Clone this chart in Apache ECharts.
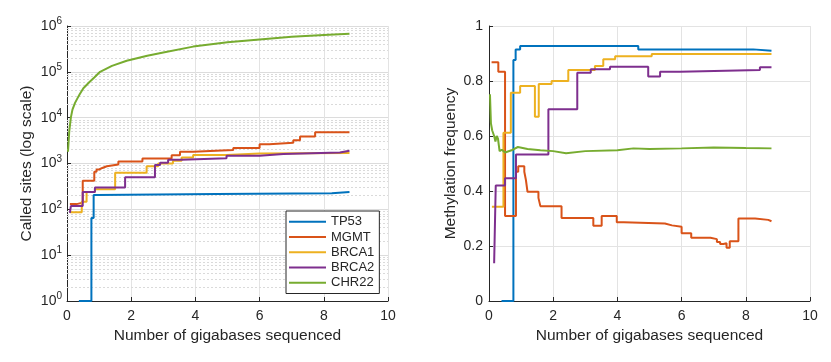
<!DOCTYPE html>
<html>
<head>
  <meta charset="utf-8">
  <script src="https://cdn.jsdelivr.net/npm/echarts@6/dist/echarts.min.js"></script>
</head>
<body style="margin:0;background:#fff">
<div id="main" style="width:831px;height:362px;"></div>
<script type="text/javascript">
var names = ['TP53', 'MGMT', 'BRCA1', 'BRCA2', 'CHR22'];
var colors = ['#0072BD', '#D95319', '#EDB120', '#7E2F8E', '#77AC30'];

// left: called sites (log scale), [gigabases, sites]
var sitesTP53 = [[0.37,1],[0.76,65],[0.83,205],[0.92,215],[4.67,225],[8.25,240],[8.8,240]];
var sitesMGMT = [[0.09,130],[0.3,140],[0.49,420],[0.85,660],[0.92,740],[1.0,800],[1.1,870],[1.24,950],[1.6,1100],[2.35,1280],[3.26,1520],[3.52,1800],[3.93,1960],[5.18,2170],[6.0,2630],[6.3,2850],[7.05,3200],[7.26,3900],[7.73,4800],[8.8,4800]];
var sitesBRCA1 = [[0.09,86],[0.46,147],[0.61,240],[0.87,275],[1.5,630],[2.48,870],[2.84,1000],[3.3,1150],[3.57,1360],[3.93,1540],[4.97,1650],[6.0,1700],[8.8,1700]];
var sitesBRCA2 = [[0.09,84],[0.12,118],[0.49,240],[0.87,300],[1.81,500],[2.74,930],[2.9,1040],[3.15,1200],[3.57,1300],[4.97,1480],[6.0,1620],[6.74,1730],[8.5,1900],[8.8,1900]];
var sitesCHR22 = [[0.03,1800],[0.07,5000],[0.12,10000],[0.17,15000],[0.25,21000],[0.32,26000],[0.4,33000],[0.51,44000],[0.7,60000],[0.85,75000],[1.03,100000],[1.4,135000],[1.86,174000],[2.5,225000],[3.0,265000],[3.93,355000],[5.0,440000],[6.0,510000],[7.0,580000],[8.0,640000],[8.8,680000]];

// right: methylation frequency, [gigabases, frequency]
var methTP53 = [[0.39,0],[0.76,0.876],[0.83,0.915],[0.97,0.927],[4.65,0.915],[8.23,0.91],[8.8,0.91]];
var methMGMT = [[0.08,0.868],[0.29,0.834],[0.5,0.309],[0.84,0.47],[0.91,0.49],[1.1,0.47],[1.15,0.44],[1.2,0.397],[1.54,0.375],[1.6,0.345],[2.26,0.302],[3.25,0.274],[3.51,0.309],[3.98,0.286],[4.2,0.282],[5.48,0.275],[5.7,0.27],[6.0,0.246],[6.3,0.23],[6.9,0.225],[7.1,0.215],[7.2,0.207],[7.3,0.21],[7.4,0.194],[7.5,0.217],[7.77,0.3],[8.29,0.295],[8.7,0.29],[8.8,0.29]];
var methBRCA1 = [[0.09,0.343],[0.45,0.612],[0.68,0.757],[0.97,0.782],[1.43,0.67],[1.55,0.789],[1.95,0.8],[2.47,0.84],[3.3,0.855],[3.56,0.879],[3.93,0.89],[5.07,0.898],[8.8,0.9]];
var methBRCA2 = [[0.16,0.137],[0.21,0.42],[0.5,0.446],[0.84,0.533],[1.85,0.697],[2.75,0.83],[3.17,0.843],[3.77,0.852],[4.96,0.816],[5.33,0.834],[5.95,0.84],[8.44,0.85],[8.8,0.85]];
var methCHR22 = [[0.03,0.752],[0.06,0.646],[0.1,0.62],[0.16,0.6],[0.2,0.58],[0.24,0.6],[0.28,0.59],[0.33,0.545],[0.4,0.55],[0.5,0.54],[0.55,0.535],[0.7,0.548],[0.9,0.56],[1.2,0.553],[1.6,0.548],[2.0,0.545],[2.4,0.537],[3.0,0.545],[4.0,0.548],[4.5,0.555],[5.0,0.553],[6.0,0.555],[7.0,0.558],[8.0,0.556],[8.8,0.555]];

var sitesData = [sitesTP53, sitesMGMT, sitesBRCA1, sitesBRCA2, sitesCHR22];
var methData = [methTP53, methMGMT, methBRCA1, methBRCA2, methCHR22];
var stepped = [true, true, true, true, false];

// minor log grid values 2..9 x 10^k
var minorLog = [];
for (var k = 0; k < 6; k++) {
  for (var m = 2; m <= 9; m++) minorLog.push({yAxis: m * Math.pow(10, k)});
}

var txt = '#262626';
var font = 'Liberation Sans, Arial, Helvetica, sans-serif';

function xAxis(idx) {
  return {
    gridIndex: idx, type: 'value', min: 0, max: 10, interval: 2,
    name: 'Number of gigabases sequenced', nameLocation: 'middle', nameGap: 27,
    nameTextStyle: {color: txt, fontSize: 15.5, fontFamily: font},
    axisLine: {lineStyle: {color: txt, width: 1}},
    axisTick: {inside: true, length: 4, lineStyle: {color: txt}},
    axisLabel: {color: txt, fontSize: 14, fontFamily: font, margin: 8},
    splitLine: {show: true, lineStyle: {color: '#e3e3e3', width: 1}}
  };
}

var series = [];
for (var i = 0; i < names.length; i++) {
  series.push({
    name: names[i], type: 'line', xAxisIndex: 0, yAxisIndex: 0,
    data: sitesData[i], step: stepped[i] ? 'end' : false,
    symbol: 'none', showSymbol: false, z: 3,
    lineStyle: {color: colors[i], width: 2}, itemStyle: {color: colors[i]}
  });
}
for (var j = 0; j < names.length; j++) {
  series.push({
    name: names[j], type: 'line', xAxisIndex: 1, yAxisIndex: 1,
    data: methData[j], step: stepped[j] ? 'end' : false,
    symbol: 'none', showSymbol: false, z: 3,
    lineStyle: {color: colors[j], width: 2}, itemStyle: {color: colors[j]}
  });
}
series.push({
  type: 'line', xAxisIndex: 0, yAxisIndex: 0, data: [], silent: true, z: 1,
  markLine: {
    silent: true, symbol: 'none', label: {show: false}, animation: false, z: 1,
    lineStyle: {color: '#dadada', type: [2, 2], width: 1},
    data: minorLog
  }
});

var chart = echarts.init(document.getElementById('main'));
chart.setOption({
  animation: false,
  backgroundColor: '#fff',
  textStyle: {fontFamily: font},
  grid: [
    {left: 67, top: 26, width: 321, height: 275},
    {left: 489, top: 26, width: 321, height: 275}
  ],
  legend: {
    orient: 'vertical', left: 286, top: 211, z: 20,
    data: names,
    icon: 'rect',
    itemWidth: 37, itemHeight: 2, itemGap: 0,
    padding: [3, 5, 3, 3],
    backgroundColor: '#fff', borderColor: txt, borderWidth: 1,
    textStyle: {color: txt, fontSize: 13, lineHeight: 15.3, fontFamily: font}
  },
  xAxis: [xAxis(0), xAxis(1)],
  yAxis: [
    {
      gridIndex: 0, type: 'log', logBase: 10, min: 1, max: 1000000,
      name: 'Called sites (log scale)', nameLocation: 'middle', nameGap: 32,
      nameTextStyle: {color: txt, fontSize: 15.5, fontFamily: font},
      axisLine: {show: true, lineStyle: {color: txt, width: 1}},
      axisTick: {inside: true, length: 4, lineStyle: {color: txt}},
      axisLabel: {
        color: txt, fontFamily: font, margin: 5,
        formatter: function (v) {
          return '{b|10}{s|' + Math.round(Math.log10(v)) + '}';
        },
        rich: {
          b: {fontSize: 14, color: txt, fontFamily: font},
          s: {fontSize: 10, color: txt, fontFamily: font, padding: [0, 0, 9, 0]}
        }
      },
      splitLine: {show: true, lineStyle: {color: '#dcdcdc', width: 1}}
    },
    {
      gridIndex: 1, type: 'value', min: 0, max: 1, interval: 0.2,
      name: 'Methylation frequency', nameLocation: 'middle', nameGap: 30,
      nameTextStyle: {color: txt, fontSize: 15.5, fontFamily: font},
      axisLine: {show: true, lineStyle: {color: txt, width: 1}},
      axisTick: {inside: true, length: 4, lineStyle: {color: txt}},
      axisLabel: {color: txt, fontSize: 14, fontFamily: font, margin: 6},
      splitLine: {show: true, lineStyle: {color: '#e3e3e3', width: 1}}
    }
  ],
  series: series
});
</script>
</body>
</html>
